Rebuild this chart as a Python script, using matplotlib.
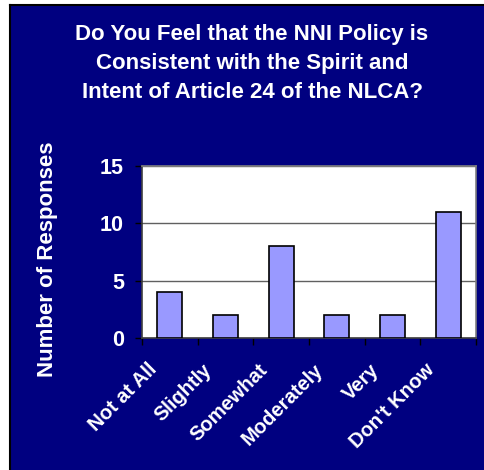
import matplotlib
matplotlib.use("Agg")
import matplotlib.pyplot as plt
from matplotlib.patches import Rectangle
from matplotlib.lines import Line2D
import numpy as np

plt.rcParams["font.family"] = ["Liberation Sans", "DejaVu Sans"]

# ─── Dati ────────────────────────────────────────────────────────────────
categories = ["Not at All", "Slightly", "Somewhat", "Moderately", "Very", "Don't Know"]
responses = [4, 2, 8, 2, 2, 11]
y_ticks = [0, 5, 10, 15]
title = ("Do You Feel that the NNI Policy is\n"
         "Consistent with the Spirit and\n"
         "Intent of Article 24 of the NLCA?")

NAVY = "#000080"
BAR = "#9999FF"

W, H = 485, 470
fig = plt.figure(figsize=(W / 100, H / 100), dpi=100, facecolor="white")

# sfondo blu con bordo nero sopra e a sinistra
x0, y0 = 10 / W, 1 - 5 / H
fig.patches.append(Rectangle((x0, 0), 1 - x0, y0, transform=fig.transFigure,
                             facecolor=NAVY, edgecolor="none", zorder=-10))
fig.lines.append(Line2D([x0, x0], [0, y0], transform=fig.transFigure,
                        color="black", lw=1.5, zorder=-5))
fig.lines.append(Line2D([x0, 1], [y0, y0], transform=fig.transFigure,
                        color="black", lw=1.5, zorder=-5))

# area del grafico
left, right, top, bottom = 142 / W, 476 / W, 1 - 166 / H, 1 - 338 / H
ax = fig.add_axes([left, bottom, right - left, top - bottom])
ax.set_facecolor("white")

x = np.arange(len(categories))
ax.bar(x, responses, width=0.45, color=BAR, edgecolor="black", linewidth=1.2,
       zorder=3)

ax.set_xlim(-0.5, len(categories) - 0.5)
ax.set_ylim(0, 15)
ax.set_yticks(y_ticks)
ax.set_yticklabels([str(v) for v in y_ticks], color="white",
                   fontsize=15.5, fontweight="bold")
ax.yaxis.grid(True, color="#606060", linewidth=1.0, zorder=1)

# tick x sui confini delle categorie
ax.set_xticks(np.arange(len(categories) + 1) - 0.5)
ax.set_xticklabels([])
ax.tick_params(axis="x", length=5, width=1, color="black", direction="out")
ax.tick_params(axis="y", length=5, width=1, color="black", pad=8)

# etichette categorie ruotate, spostate un po' a sinistra come in Excel
for i, cat in enumerate(categories):
    ax.annotate(cat, xy=(x[i], 0), xycoords=("data", "axes fraction"),
                xytext=(-23, -22), textcoords="offset pixels",
                rotation=45, ha="right", va="top", rotation_mode="anchor",
                color="white", fontsize=14.5, fontweight="bold",
                annotation_clip=False)

for side in ["top", "right"]:
    ax.spines[side].set_color("#808080")
    ax.spines[side].set_linewidth(1.2)
for side in ["left", "bottom"]:
    ax.spines[side].set_color("#404040")
    ax.spines[side].set_linewidth(1.2)

fig.text(48 / W, 1 - 259 / H, "Number of Responses", rotation=90,
         ha="center", va="center", color="white", fontsize=16,
         fontweight="bold")

fig.text(252 / W, 1 - 24 / H, title, ha="center", va="top", color="white",
         fontsize=16, fontweight="bold", linespacing=1.5)

fig.savefig("out.png", dpi=100, facecolor=fig.get_facecolor())
